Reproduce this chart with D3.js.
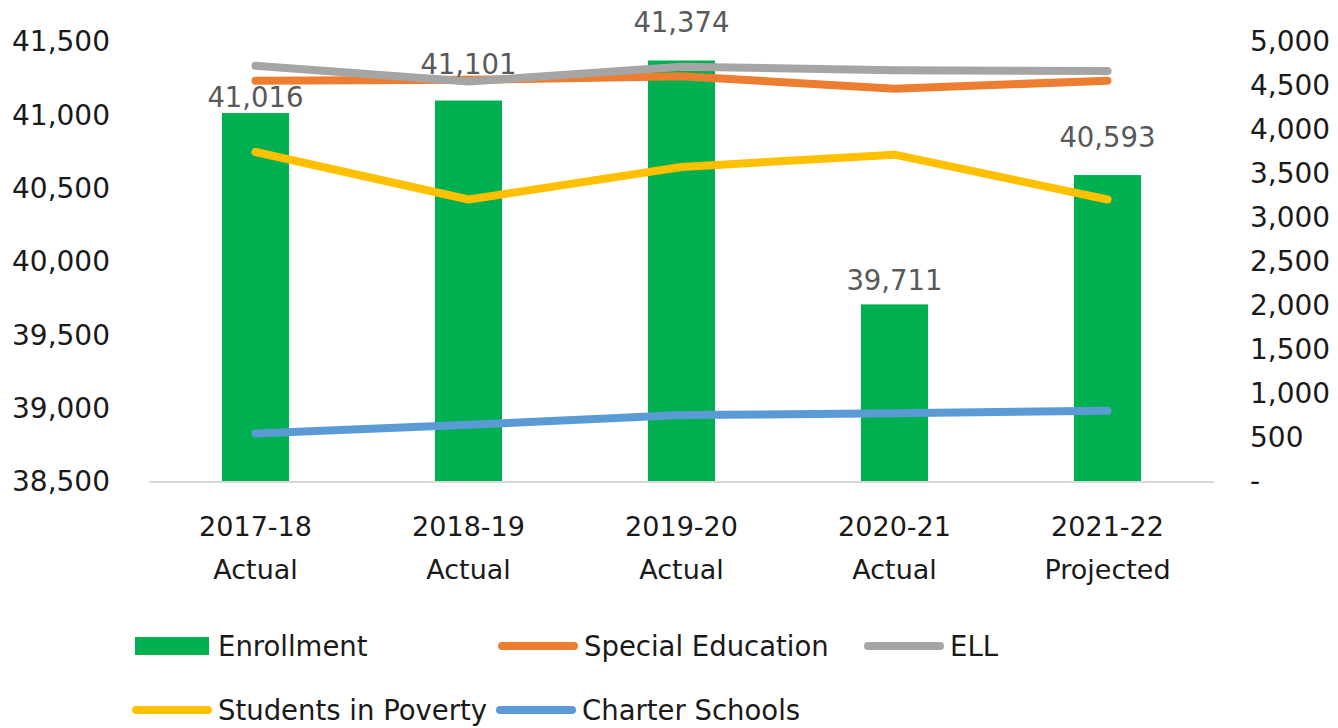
<!DOCTYPE html>
<html>
<head>
<meta charset="utf-8">
<script src="https://cdn.jsdelivr.net/npm/d3@7"></script>
<style>
  body { margin: 0; background: #fff; }
  text { font-family: "DejaVu Sans", sans-serif; }
</style>
</head>
<body>
<div id="chart"></div>
<script>
// categories (two-line labels)
const years = ["2017-18", "2018-19", "2019-20", "2020-21", "2021-22"];
const status = ["Actual", "Actual", "Actual", "Actual", "Projected"];

// left axis: enrollment bars
const enrollment = [41016, 41101, 41374, 39711, 40593];

// right axis: lines
const specialEd = [4560, 4570, 4610, 4470, 4560];
const ell       = [4730, 4550, 4720, 4680, 4670];
const poverty   = [3750, 3210, 3580, 3720, 3210];
const charter   = [550, 650, 760, 780, 810];

const leftTicks = [38500, 39000, 39500, 40000, 40500, 41000, 41500];
const rightTicks = [0, 500, 1000, 1500, 2000, 2500, 3000, 3500, 4000, 4500, 5000];

const width = 1338, height = 728;
const plot = { left: 149, right: 1214, top: 42, bottom: 482 };

const svg = d3.select("#chart").append("svg")
  .attr("width", width)
  .attr("height", height);

const x = d3.scaleBand()
  .domain(years)
  .range([plot.left, plot.right])
  .paddingInner(0.685)
  .paddingOuter(0.3425);

const yL = d3.scaleLinear().domain([38500, 41500]).range([plot.bottom, plot.top]);
const yR = d3.scaleLinear().domain([0, 5000]).range([plot.bottom, plot.top]);

// bars
svg.selectAll("rect.bar")
  .data(enrollment)
  .enter().append("rect")
  .attr("class", "bar")
  .attr("x", (d, i) => x(years[i]))
  .attr("width", x.bandwidth())
  .attr("y", d => yL(d))
  .attr("height", d => plot.bottom - yL(d))
  .attr("fill", "#00B050");

// base line
svg.append("line")
  .attr("x1", plot.left).attr("x2", plot.right)
  .attr("y1", plot.bottom).attr("y2", plot.bottom)
  .attr("stroke", "#D9D9D9").attr("stroke-width", 2);

// left axis
const gL = svg.append("g")
  .attr("transform", `translate(${plot.left},0)`)
  .call(d3.axisLeft(yL).tickValues(leftTicks).tickFormat(d3.format(",")).tickSize(0).tickPadding(39));
gL.select(".domain").remove();
gL.selectAll("text").attr("font-size", 28).attr("fill", "#1a1a1a")
  .style("font-family", "DejaVu Sans");

// right axis
const gR = svg.append("g")
  .attr("transform", `translate(${plot.right},0)`)
  .call(d3.axisRight(yR).tickValues(rightTicks)
    .tickFormat(d => d === 0 ? "-" : d3.format(",")(d)).tickSize(0).tickPadding(36));
gR.select(".domain").remove();
gR.selectAll("text").attr("font-size", 28).attr("fill", "#1a1a1a")
  .style("font-family", "DejaVu Sans");

// category labels (two lines)
const gX = svg.append("g")
  .attr("transform", `translate(0,${plot.bottom})`)
  .call(d3.axisBottom(x).tickSize(0).tickFormat(""));
gX.select(".domain").remove();
gX.selectAll(".tick").each(function(d, i) {
  const t = d3.select(this).append("text")
    .attr("text-anchor", "middle")
    .attr("fill", "#1a1a1a")
    .attr("font-size", 27)
    .style("font-family", "DejaVu Sans");
  t.append("tspan").attr("x", 0).attr("y", 54).text(years[i]);
  t.append("tspan").attr("x", 0).attr("y", 97).text(status[i]);
});

// lines
const series = [
  { name: "Special Education", values: specialEd, color: "#ED7D31" },
  { name: "ELL", values: ell, color: "#A5A5A5" },
  { name: "Students in Poverty", values: poverty, color: "#FFC000" },
  { name: "Charter Schools", values: charter, color: "#5B9BD5" }
];

const line = d3.line()
  .x((d, i) => x(years[i]) + x.bandwidth() / 2)
  .y(d => yR(d));

series.forEach(s => {
  svg.append("path")
    .datum(s.values)
    .attr("d", line)
    .attr("fill", "none")
    .attr("stroke", s.color)
    .attr("stroke-width", 8)
    .attr("stroke-linecap", "round")
    .attr("stroke-linejoin", "round");
});

// data labels above bars (lift = gap between bar top and text baseline)
const labelLift = [6, 27, 28, 14, 28];
svg.selectAll("text.val")
  .data(enrollment)
  .enter().append("text")
  .attr("class", "val")
  .attr("x", (d, i) => x(years[i]) + x.bandwidth() / 2)
  .attr("y", (d, i) => yL(d) - labelLift[i])
  .attr("text-anchor", "middle")
  .attr("font-size", 27.5)
  .attr("fill", "#595959")
  .text(d3.format(","));

// legend
const legend = svg.append("g").attr("font-size", 27.5).attr("fill", "#1a1a1a");
const legendItems = [
  { label: "Enrollment", color: "#00B050", type: "bar", x: 135, y: 646 },
  { label: "Special Education", color: "#ED7D31", type: "line", x: 502, y: 646 },
  { label: "ELL", color: "#A5A5A5", type: "line", x: 868, y: 646 },
  { label: "Students in Poverty", color: "#FFC000", type: "line", x: 136, y: 710 },
  { label: "Charter Schools", color: "#5B9BD5", type: "line", x: 500, y: 710 }
];
legendItems.forEach(it => {
  if (it.type === "bar") {
    legend.append("rect")
      .attr("x", it.x).attr("y", it.y - 9)
      .attr("width", 74).attr("height", 18)
      .attr("fill", it.color);
  } else {
    legend.append("line")
      .attr("x1", it.x).attr("x2", it.x + 72)
      .attr("y1", it.y).attr("y2", it.y)
      .attr("stroke", it.color).attr("stroke-width", 8)
      .attr("stroke-linecap", "round");
  }
  legend.append("text")
    .attr("x", it.type === "bar" ? it.x + 83 : it.x + 82)
    .attr("y", it.y + 10)
    .text(it.label);
});
</script>
</body>
</html>
